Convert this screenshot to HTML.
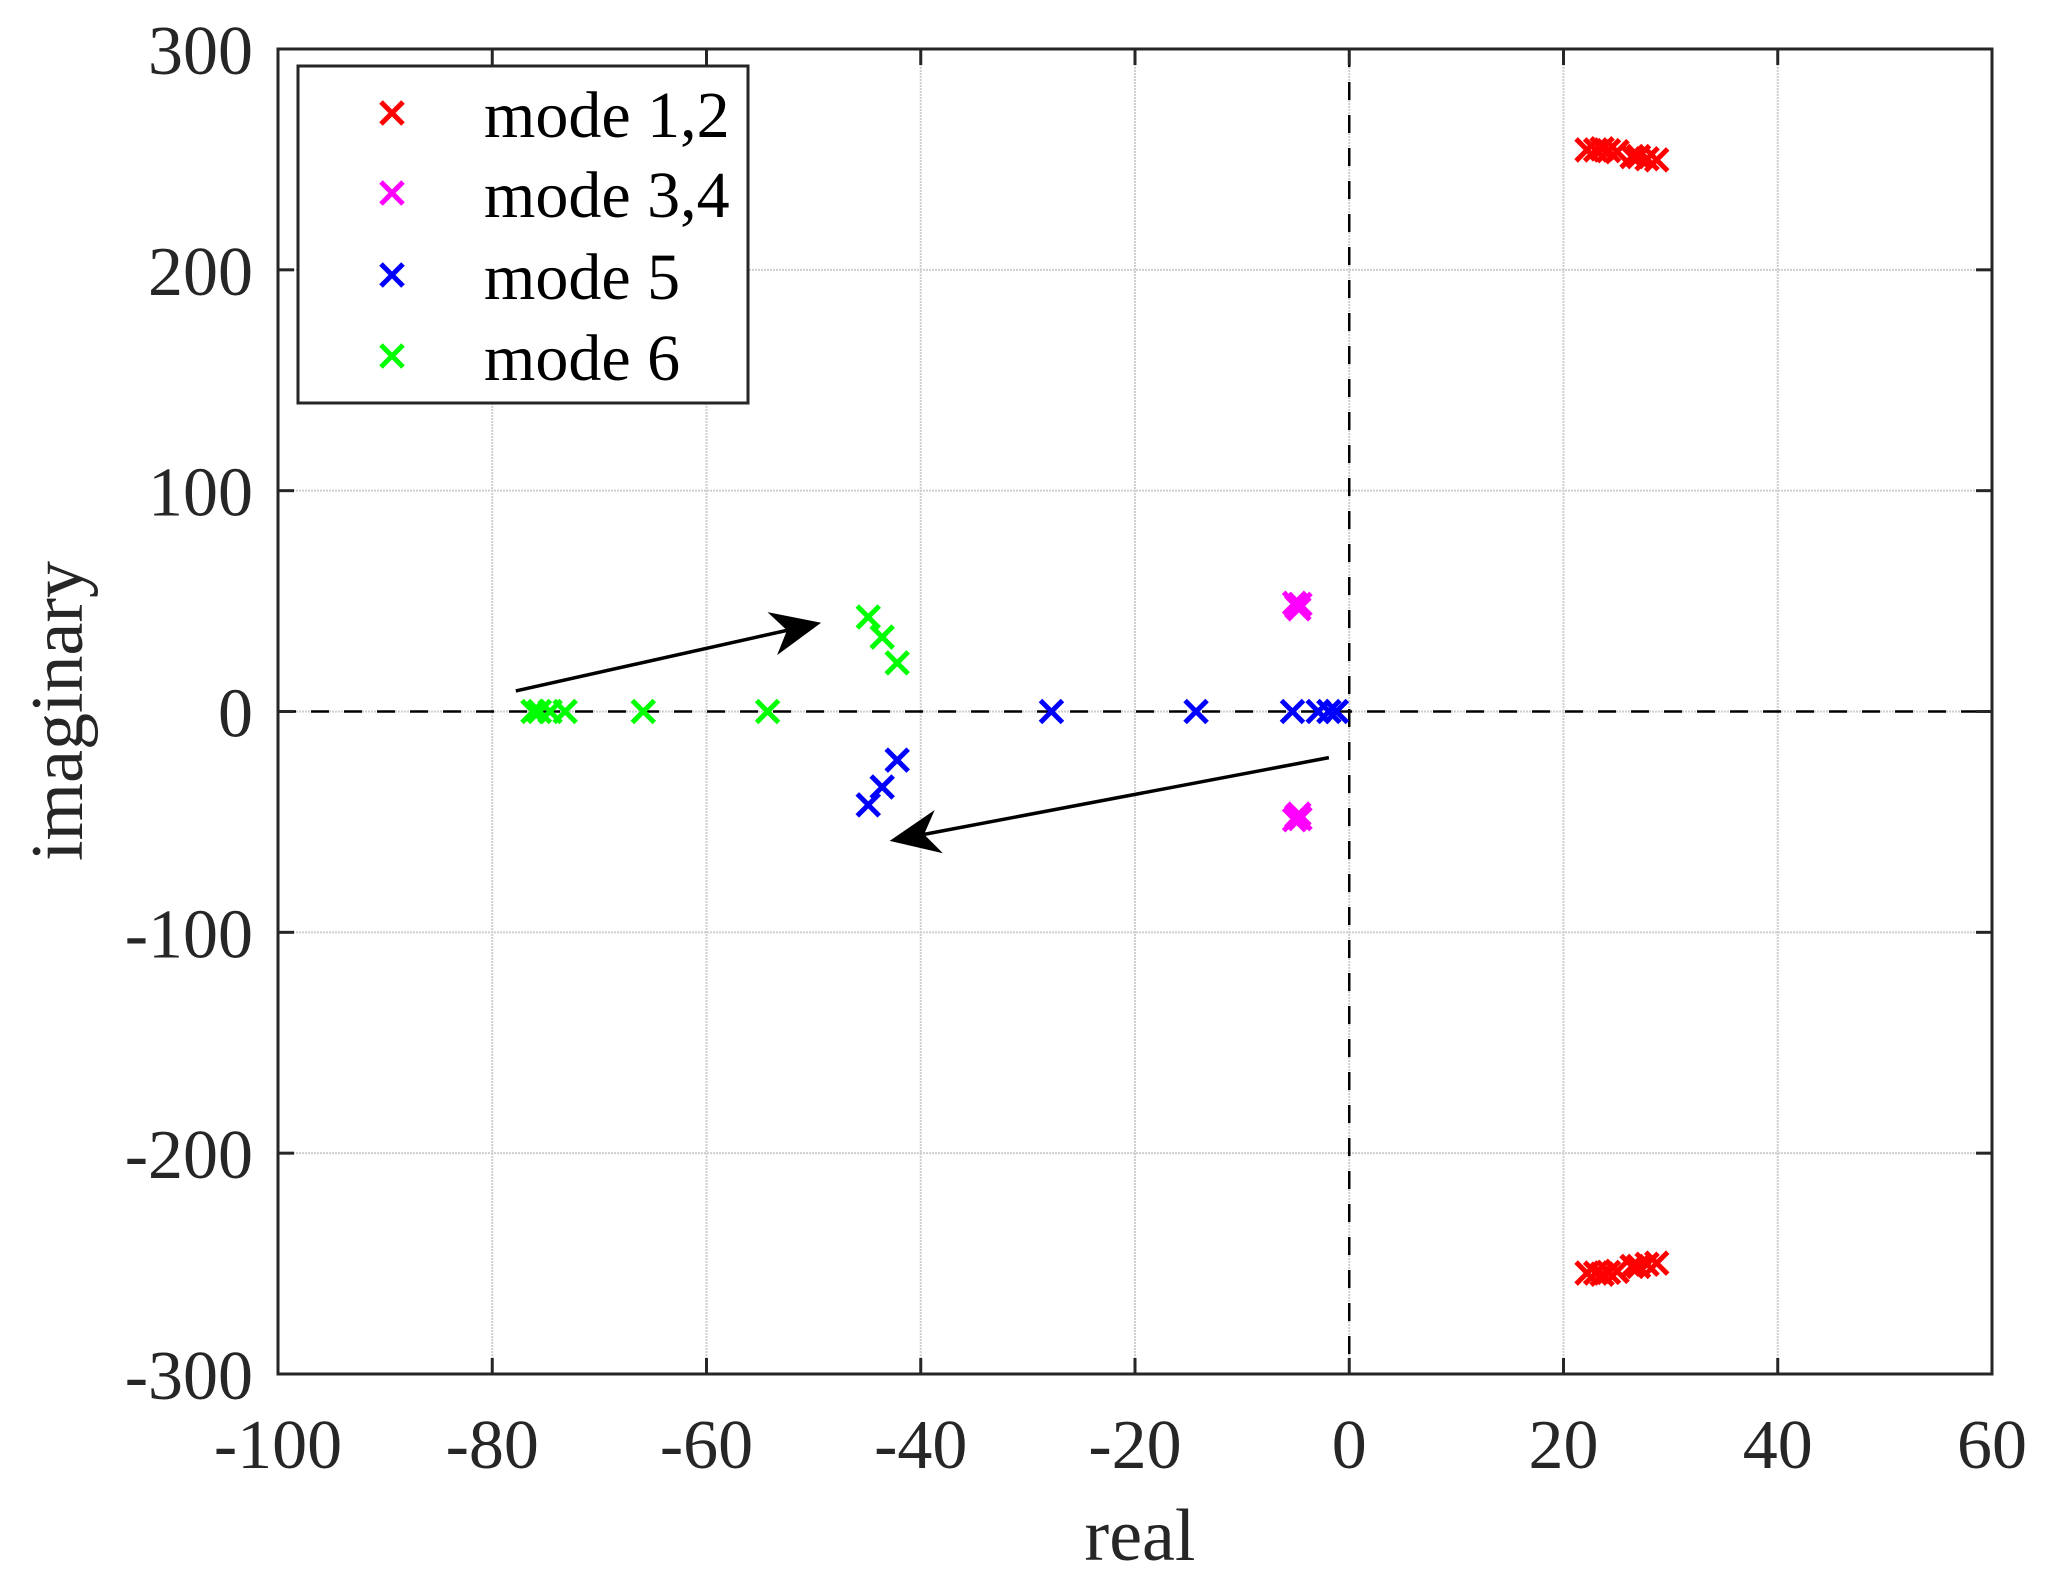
<!DOCTYPE html>
<html><head><meta charset="utf-8"><style>
html,body{margin:0;padding:0;background:#fff;}
svg{display:block;font-family:"Liberation Serif",serif;}
</style></head><body>
<svg id="chart" width="2061" height="1576" viewBox="0 0 2061 1576" xmlns="http://www.w3.org/2000/svg">
<rect x="0" y="0" width="2061" height="1576" fill="#fff"/>
<g id="grid"></g>
<g id="zero"></g>
<g id="marks"></g>
<g id="arrows"></g>
<g id="axes"></g>
<text x="1140" y="1560" font-size="74" text-anchor="middle" fill="#262626">real</text>
<text transform="translate(82,711) rotate(-90)" font-size="74" text-anchor="middle" fill="#262626">imaginary</text>
<g>
<rect x="298" y="66" width="450" height="337" fill="#fff" stroke="#262626" stroke-width="3"/>
<g id="legend-items"></g>
</g>
</svg>
<script>
const xTicks=[-100,-80,-60,-40,-20,0,20,40,60];
const yTicks=[300,200,100,0,-100,-200,-300];
const seriesNames=["mode 1,2","mode 3,4","mode 5","mode 6"];
const seriesColors=["#ff0000","#ff00ff","#0000ff","#00ff00"];
const mode12Re=[22.2,23.0,23.6,24.2,25.0,26.4,27.0,27.8,28.7,22.2,23.0,23.6,24.2,25.0,26.4,27.0,27.8,28.7];
const mode12Im=[254.3,254.3,254.8,254,253.5,251.3,251.3,250.3,249.8,-254.3,-254.3,-254.8,-254,-253.5,-251.3,-251.3,-250.3,-249.8];
const mode34Re=[-5.1,-4.9,-4.7,-4.6,-5.1,-4.9,-4.7,-4.6];
const mode34Im=[49,47.5,46.5,48.5,-49,-47.5,-46.5,-48.5];
const mode5Re=[-27.8,-14.3,-5.3,-2.9,-1.9,-1.2,-42.2,-43.6,-44.9];
const mode5Im=[0,0,0,0,0,0,-22,-34.2,-42.3];
const mode6Re=[-76.2,-75.6,-74.6,-73.2,-65.9,-54.3,-44.9,-43.6,-42.2];
const mode6Im=[0,0,0,0,0,0,42.8,33.7,22];
const arrowStartRe=[-77.8,-1.9];
const arrowStartIm=[9.3,-20.9];
const arrowTipRe=[-49.3,-42.9];
const arrowTipIm=[40.2,-58.6];

const L=278,R=1992,T=49,B=1374;
const X=v=>L+(v+100)/160*(R-L);
const Y=v=>T+(300-v)/600*(B-T);
const NS="http://www.w3.org/2000/svg";
function mk(tag,parent,attrs){const e=document.createElementNS(NS,tag);for(const k in attrs)e.setAttribute(k,attrs[k]);parent.appendChild(e);return e;}
const grid=document.getElementById('grid'),axes=document.getElementById('axes'),marks=document.getElementById('marks'),zero=document.getElementById('zero'),arrows=document.getElementById('arrows');

xTicks.forEach(t=>{
  const x=X(t);
  if(t>-100&&t<60){const g=mk('line',grid,{x1:x,y1:T,x2:x,y2:B,stroke:'#cfcfcf','stroke-width':2,'stroke-dasharray':'2 1'});
  
  
  mk('line',axes,{x1:x,y1:B,x2:x,y2:B-16,stroke:'#262626','stroke-width':3});
  mk('line',axes,{x1:x,y1:T,x2:x,y2:T+16,stroke:'#262626','stroke-width':3});}
  const tx=mk('text',axes,{x:x,y:1468,'font-size':70,'text-anchor':'middle',fill:'#262626'});
  tx.textContent=t;
  
  
});
yTicks.forEach(t=>{
  const y=Y(t);
  if(t>-300&&t<300){const g=mk('line',grid,{x1:L,y1:y,x2:R,y2:y,stroke:'#cfcfcf','stroke-width':2,'stroke-dasharray':'2 1'});
  
  
  mk('line',axes,{x1:L,y1:y,x2:L+16,y2:y,stroke:'#262626','stroke-width':3});
  mk('line',axes,{x1:R,y1:y,x2:R-16,y2:y,stroke:'#262626','stroke-width':3});}
  const tx=mk('text',axes,{x:253,y:y+25,'font-size':70,'text-anchor':'end',fill:'#262626'});
  tx.textContent=t;
  
  
});
const fr=mk('rect',axes,{x:L,y:T,width:R-L,height:B-T,fill:'none',stroke:'#262626','stroke-width':3});



const zh=mk('line',zero,{x1:L,y1:Y(0),x2:R,y2:Y(0),stroke:'#000','stroke-width':2.5,'stroke-dasharray':'18 15'});


const zv=mk('line',zero,{x1:X(0),y1:T,x2:X(0),y2:B,stroke:'#000','stroke-width':2.5,'stroke-dasharray':'18 15'});



function cross(parent,cx,cy,color,h){
  const g=mk('path',parent,{d:`M${cx-h},${cy-h}L${cx+h},${cy+h}M${cx-h},${cy+h}L${cx+h},${cy-h}`,stroke:color,'stroke-width':5,fill:'none'});
  return g;
}
const allRe=[mode12Re,mode34Re,mode5Re,mode6Re],allIm=[mode12Im,mode34Im,mode5Im,mode6Im];
allRe.forEach((re,s)=>{
  re.forEach((v,i)=>{
    const c=cross(marks,X(v),Y(allIm[s][i]),seriesColors[s],11);
    
    
  });
});

arrowStartRe.forEach((v,i)=>{
  const x1=X(v),y1=Y(arrowStartIm[i]),x2=X(arrowTipRe[i]),y2=Y(arrowTipIm[i]);
  const dx=x2-x1,dy=y2-y1,len=Math.hypot(dx,dy),ux=dx/len,uy=dy/len;
  const hl=50,hw=22,bx=x2-ux*hl,by=y2-uy*hl,ix=x2-ux*hl*0.7,iy=y2-uy*hl*0.7;
  const ln=mk('line',arrows,{x1:x1,y1:y1,x2:ix,y2:iy,stroke:'#000','stroke-width':3.5});
  
  
  const hd=mk('path',arrows,{d:`M${x2},${y2}L${bx-uy*hw},${by+ux*hw}L${ix},${iy}L${bx+uy*hw},${by-ux*hw}Z`,fill:'#000'});
  
  
});

const li=document.getElementById('legend-items');
const rowY=[113,193,275,356];
seriesNames.forEach((n,i)=>{
  const c=cross(li,392,rowY[i],seriesColors[i],11);
  
  
  const t=mk('text',li,{x:484,y:rowY[i]+24,'font-size':66,fill:'#000'});
  t.textContent=n;
  
  
});
</script>
</body></html>
